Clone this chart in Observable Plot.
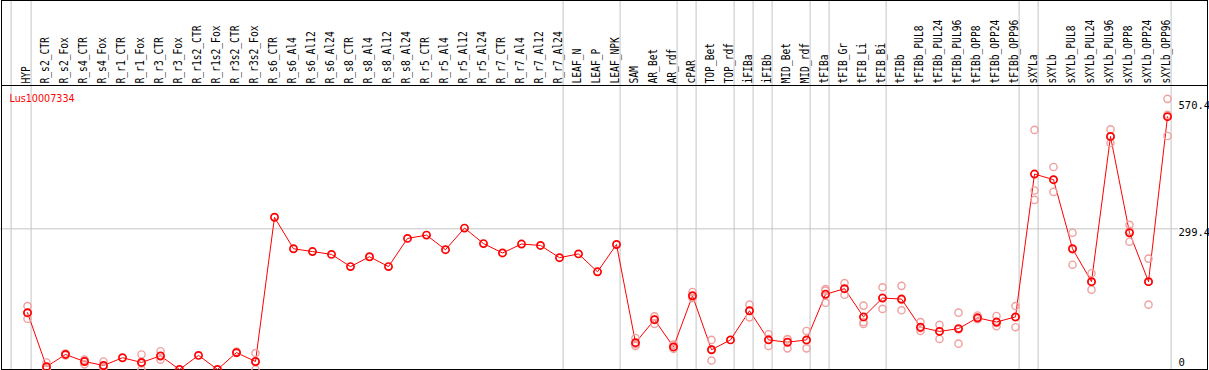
<!DOCTYPE html>
<html>
<head>
<meta charset="utf-8">
<script src="https://cdn.jsdelivr.net/npm/d3@7"></script>
<script src="https://cdn.jsdelivr.net/npm/@observablehq/plot@0.6"></script>
<style>
  html, body { margin: 0; padding: 0; background: white; overflow: hidden; }
</style>
</head>
<body>
<div id="chart"></div>
<script>
const seriesName = "Lus10007334";

const categories = ["HYP","R_s2_CTR","R_s2_Fox","R_s4_CTR","R_s4_Fox","R_r1_CTR","R_r1_Fox","R_r3_CTR","R_r3_Fox",
  "R_r1s2_CTR","R_r1s2_Fox","R_r3s2_CTR","R_r3s2_Fox","R_s6_CTR","R_s6_Al4","R_s6_Al12","R_s6_Al24",
  "R_s8_CTR","R_s8_Al4","R_s8_Al12","R_s8_Al24","R_r5_CTR","R_r5_Al4","R_r5_Al12","R_r5_Al24",
  "R_r7_CTR","R_r7_Al4","R_r7_Al12","R_r7_Al24","LEAF_N","LEAF_P","LEAF_NPK","SAM","AR_Bet","AR_rdf",
  "cPAR","TOP_Bet","TOP_rdf","iFIBa","iFIBb","MID_Bet","MID_rdf","tFIBa","tFIB_Gr","tFIB_Li","tFIB_Bi",
  "tFIBb","tFIBb_PUL8","tFIBb_PUL24","tFIBb_PUL96","tFIBb_OPP8","tFIBb_OPP24","tFIBb_OPP96",
  "sXYLa","sXYLb","sXYLb_PUL8","sXYLb_PUL24","sXYLb_PUL96","sXYLb_OPP8","sXYLb_OPP24","sXYLb_OPP96"];

const means = [121,6,32,17,8.5,25,15,29,0,30,0,36,17,324,257,251,245,219,240,219,279,286,255,301,268,
  248,267,264,238,246,208,266,57,106,48,157,42,63,125,63,58,63,160,172,112,152,150,90,81,87,110,101,112,
  416,404,257,187,496,291,187,538];

const rep1 = [135,15,34,19,17,null,32,39,null,null,null,38,35,null,null,null,null,null,null,null,null,null,null,null,null,
  null,null,null,null,null,null,null,67,113,53,165,63,null,138,75,65,82,171,184,136,175,178,101,95,121,115,114,135,
  510,431,291,205,511,308,236,576];
const rep2 = [108,2,30,11,5,null,0,21,null,null,null,35,0,null,null,null,null,null,null,null,null,null,null,null,null,
  null,null,null,null,null,null,null,50,97,44,152,19,null,111,50,45,45,142,159,101,129,126,82,65,55,107,92,90,
  381,378,223,170,482,272,138,497];
const rep3 = [120,1,32,21,4,null,13,28,null,null,null,35,16,null,null,null,null,null,null,null,null,null,null,null,null,
  null,null,null,null,null,null,null,54,107,48,156,43,null,125,65,64,62,168,172,97,153,148,88,82,85,108,99,111,
  361,404,256,187,495,295,187,542];

// group separators: a vertical rule after each of these categories
const separators = ["HYP","R_r7_Al24","LEAF_NPK","AR_rdf","cPAR","TOP_rdf","iFIBa","iFIBb","MID_rdf",
  "tFIBa","tFIB_Bi","tFIBb_OPP96","sXYLa","sXYLb_OPP96"];

const yTickLabels = [570.4, 299.4];
const yZeroLabel = [0];

const meanData = categories.map((c, i) => ({cat: c, v: means[i]}));
const repData = [];
categories.forEach((c, i) => {
  [rep1[i], rep2[i], rep3[i]].forEach(r => { if (r != null) repData.push({cat: c, v: r}); });
});

const mono = "'DejaVu Sans Mono', 'Liberation Mono', monospace";
const grid = "#c4c4c4";

const chart = Plot.plot({
  width: 1209,
  height: 370,
  margin: 0,
  style: {background: "white", fontFamily: mono},
  x: {type: "point", domain: categories, range: [26.7, 1166.7], padding: 0, axis: null},
  y: {type: "linear", domain: [0, 570.4], range: [369, 101], axis: null},
  marks: [
    Plot.ruleX(["HYP"], {x: d => d, stroke: grid, dx: -16.4}),
    Plot.ruleX(separators, {x: d => d, stroke: grid, dx: 3.6}),
    Plot.ruleY([299.4], {stroke: grid, insetRight: 31}),
    Plot.frame({stroke: "black", insetLeft: 1, insetRight: 2, insetBottom: 1}),
    Plot.frame({stroke: "black", insetTop: 85, insetLeft: 1, insetRight: 2, insetBottom: 1}),
    Plot.line(meanData, {x: "cat", y: "v", stroke: "#ff0000", strokeWidth: 1}),
    Plot.dot(repData, {x: "cat", y: "v", r: 3.6, stroke: "#f0a0a0", strokeWidth: 1.4, fill: "none"}),
    Plot.dot(meanData, {x: "cat", y: "v", r: 3.6, stroke: "#ff0000", strokeWidth: 1.7, fill: "none"}),
    Plot.text(categories, {
      x: d => d, text: d => d, frameAnchor: "top", dy: 83, dx: 2.6,
      rotate: -90, textAnchor: "start", lineAnchor: "bottom",
      fontFamily: mono, fontSize: 12, fill: "black"
    }),
    Plot.text([seriesName], {
      text: d => d, frameAnchor: "top-left", dx: 9, dy: 101,
      textAnchor: "start", lineAnchor: "bottom",
      fontFamily: "'DejaVu Sans', sans-serif", fontSize: 9.6, fill: "#ff0000"
    }),
    Plot.text(yTickLabels, {
      y: d => d, text: d => String(d), frameAnchor: "right", dx: -31,
      textAnchor: "start", lineAnchor: "top", fontFamily: mono, fontSize: 10.5, fill: "black"
    }),
    Plot.text(yZeroLabel, {
      y: d => d, text: d => String(d), frameAnchor: "right", dx: -31, dy: -4,
      textAnchor: "start", lineAnchor: "bottom", fontFamily: mono, fontSize: 10.5, fill: "black"
    })
  ]
});

// condense the rotated column labels to the narrow cell font of the original
d3.select(chart).selectAll("text")
  .filter(function () { return (this.getAttribute("transform") || "").includes("rotate"); })
  .each(function () {
    const n = this.textContent.length;
    this.setAttribute("textLength", (n * 5.8).toFixed(1));
    this.setAttribute("lengthAdjust", "spacingAndGlyphs");
  });

document.getElementById("chart").appendChild(chart);
</script>
</body>
</html>
